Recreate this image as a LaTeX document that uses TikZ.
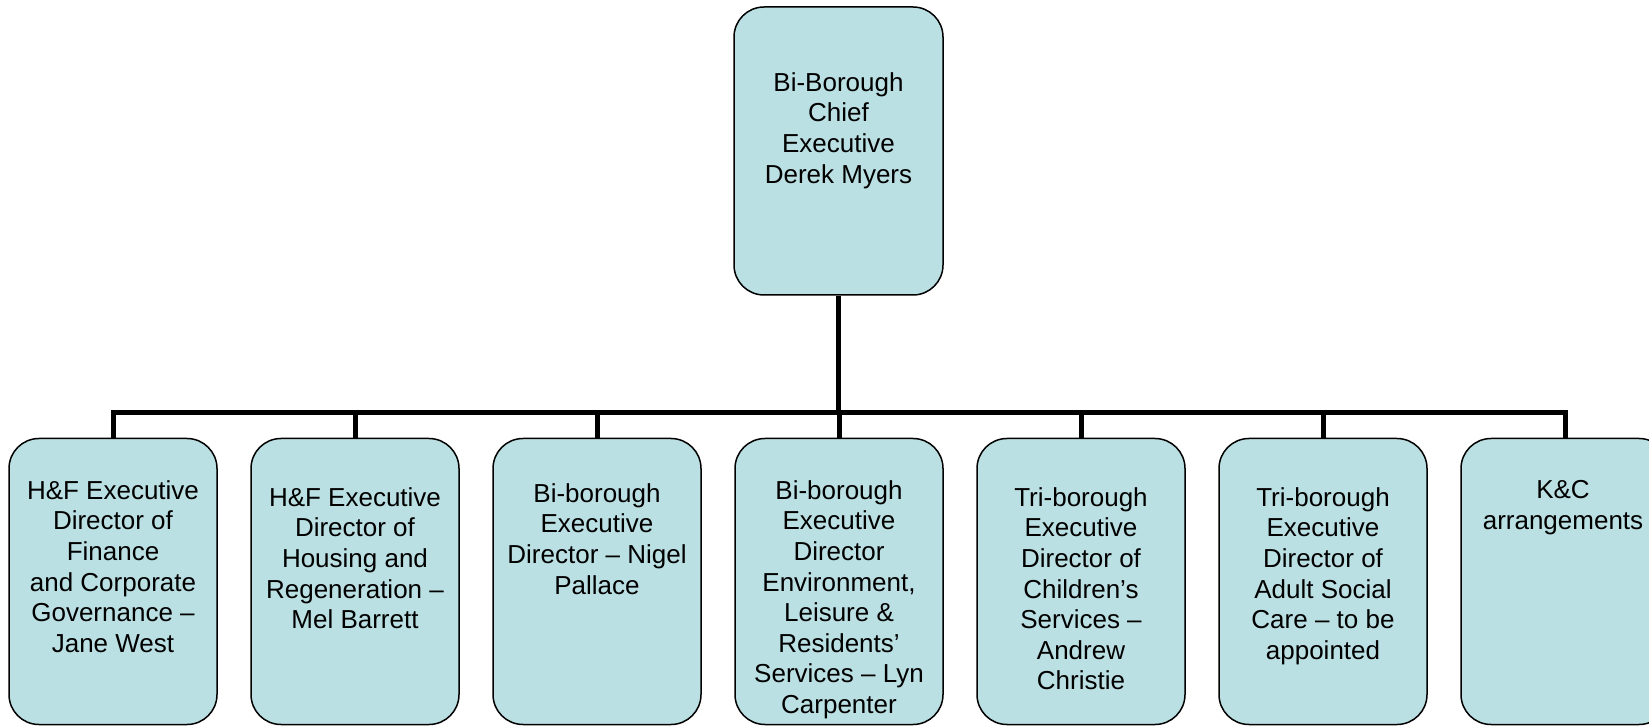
\documentclass[tikz,border=0pt]{standalone}
\usepackage{fontspec}
\setmainfont{Liberation Sans}
\usepackage{xcolor}
\definecolor{boxblue}{HTML}{BBE0E3}

\begin{document}
\begin{tikzpicture}[x=0.5pt,y=-0.5pt,
    post/.style={draw=black, line width=0.75pt, fill=boxblue, rounded corners=15pt,
      minimum width=104pt, minimum height=143pt, inner sep=0pt},
    label text/.style={anchor=north, align=center, inner sep=0pt,
      font=\fontsize{13}{15.3}\selectfont},
    link/.style={line width=2.5pt}]
    \useasboundingbox (0,0) rectangle (1649,726);

    % Draw the chief executive box
    \node[post, minimum width=104.5pt, minimum height=144pt] (chief) at (838.5,151) {};
    \node[label text] (chieft) at (838.5,72) {Bi-Borough\\Chief\\Executive\\Derek Myers};

    % Draw the director boxes
    \node[post] (dir1) at (113,581.5) {};
    \node[post] (dir2) at (355,581.5) {};
    \node[post] (dir3) at (597,581.5) {};
    \node[post] (dir4) at (839,581.5) {};
    \node[post] (dir5) at (1081,581.5) {};
    \node[post] (dir6) at (1323,581.5) {};
    \node[post] (dir7) at (1565,581.5) {};

    % Texts of the director boxes
    \node[label text] (dir1t) at (113,480) {H\&F Executive\\Director of\\Finance\\and Corporate\\Governance --\\Jane West};
    \node[label text] (dir2t) at (355,487) {H\&F Executive\\Director of\\Housing and\\Regeneration --\\Mel Barrett};
    \node[label text] (dir3t) at (597,483) {Bi-borough\\Executive\\Director -- Nigel\\Pallace};
    \node[label text] (dir4t) at (839,480) {Bi-borough\\Executive\\Director\\Environment,\\Leisure \&\\Residents’\\Services -- Lyn\\Carpenter};
    \node[label text] (dir5t) at (1081,487) {Tri-borough\\Executive\\Director of\\Children’s\\Services --\\Andrew\\Christie};
    \node[label text] (dir6t) at (1323,487) {Tri-borough\\Executive\\Director of\\Adult Social\\Care -- to be\\appointed};
    \node[label text] (dir7t) at (1563,480) {K\&C\\arrangements};

    % Draw the connectors
    \coordinate (bar) at (838,413);
    \draw[link] (chief.south) -- (chief.south |- bar);
    \draw[link] (dir1.north) -- (dir1.north |- bar) -- (dir7.north |- bar) -- (dir7.north);
    \foreach \d in {dir2,dir3,dir4,dir5,dir6}
        \draw[link] (\d.north) -- (\d.north |- bar);
\end{tikzpicture}
\end{document}
